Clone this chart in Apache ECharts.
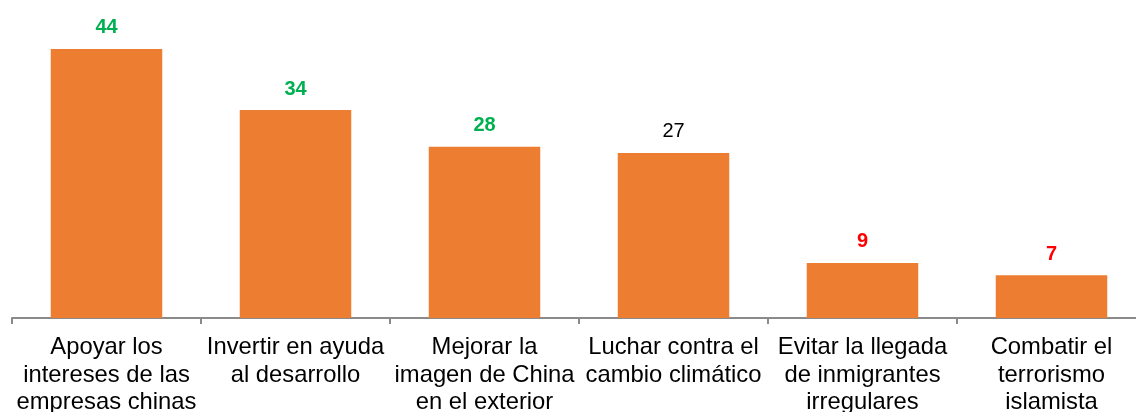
<!DOCTYPE html>
<html>
<head>
<meta charset="utf-8">
<script src="https://cdn.jsdelivr.net/npm/echarts@6/dist/echarts.min.js"></script>
<style>html,body{margin:0;padding:0;background:#fff}#c{width:1136px;height:412px}</style>
</head>
<body>
<div id="c"></div>
<script>
const categories = [
  "Apoyar los\nintereses de las\nempresas chinas",
  "Invertir en ayuda\nal desarrollo",
  "Mejorar la\nimagen de China\nen el exterior",
  "Luchar contra el\ncambio climático",
  "Evitar la llegada\nde inmigrantes\nirregulares",
  "Combatir el\nterrorismo\nislamista"
];
const values = [44, 34, 28, 27, 9, 7];
const labelColors = ["#00B050", "#00B050", "#00B050", "#000000", "#FF0000", "#FF0000"];
const labelWeights = ["bold", "bold", "bold", "normal", "bold", "bold"];

const chart = echarts.init(document.getElementById('c'));
chart.setOption({
  animation: false,
  grid: { left: 12, width: 1134, top: 0, height: 318, containLabel: false, outerBoundsMode: 'none' },
  xAxis: {
    type: 'category',
    data: categories,
    boundaryGap: true,
    axisLine: { show: true, lineStyle: { color: '#8a8a8a', width: 2 } },
    axisTick: { show: true, length: 6, lineStyle: { color: '#8a8a8a', width: 2 } },
    axisLabel: {
      interval: 0,
      color: '#000',
      fontFamily: 'Liberation Sans, Arial, sans-serif',
      fontSize: 23.8,
      lineHeight: 27.5,
      margin: 16
    }
  },
  yAxis: {
    type: 'value',
    min: 0,
    max: 52,
    show: false,
    splitLine: { show: false }
  },
  series: [{
    type: 'bar',
    barWidth: '59%',
    itemStyle: { color: '#ED7D31' },
    data: values.map((v, i) => ({
      value: v,
      label: {
        show: true,
        position: 'top',
        distance: 11,
        color: labelColors[i],
        fontWeight: labelWeights[i],
        fontSize: 20,
        fontFamily: 'Liberation Sans, Arial, sans-serif'
      }
    }))
  }]
});
</script>
</body>
</html>
